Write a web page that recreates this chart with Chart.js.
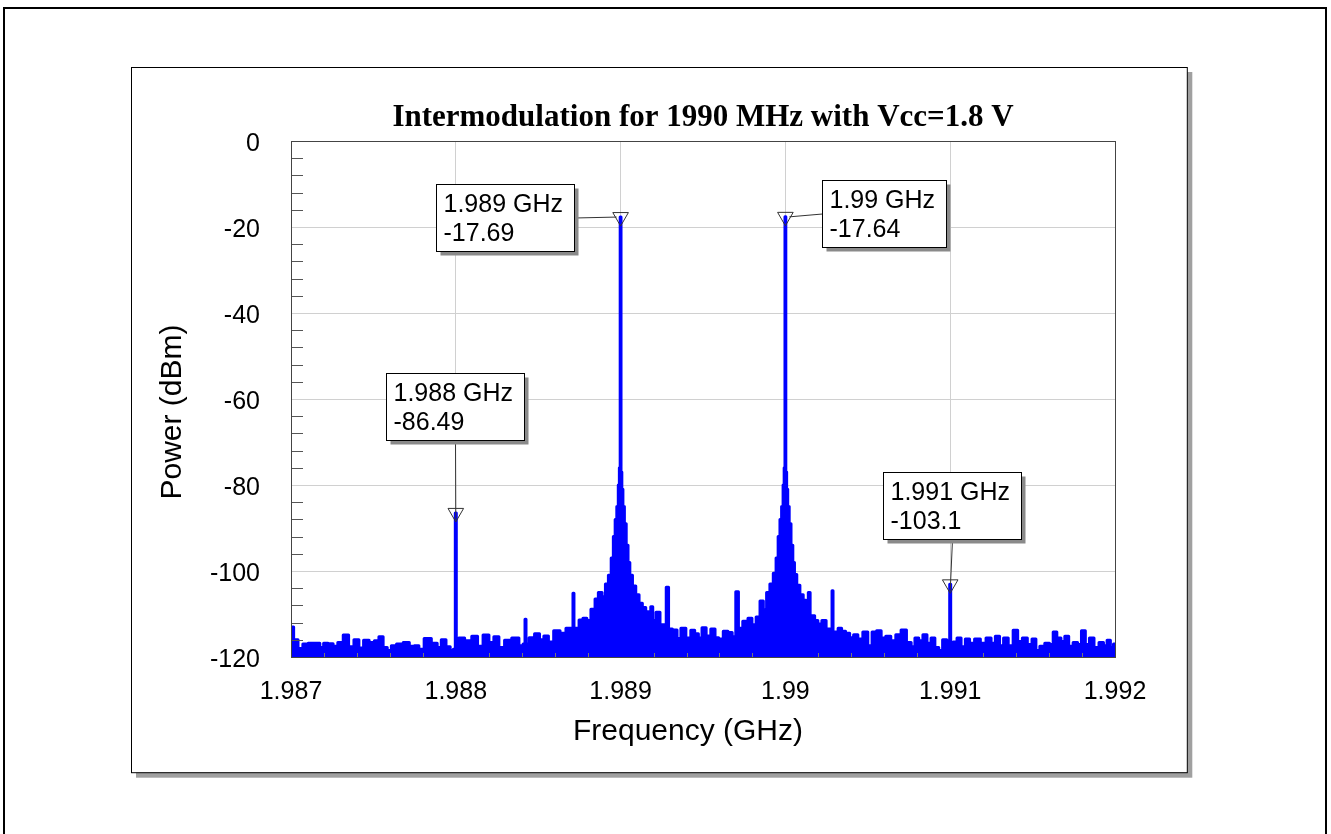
<!DOCTYPE html>
<html><head><meta charset="utf-8">
<script src="https://cdn.jsdelivr.net/npm/chart.js@4.4.1/dist/chart.umd.min.js"></script>
<style>html,body{margin:0;padding:0;background:#fff;} #wrap{width:1331px;height:834px;position:relative;}</style>
</head><body><div id="wrap"><canvas id="c" width="1331" height="834"></canvas></div>
<script>
const chartTitle = 'Intermodulation for 1990 MHz with Vcc=1.8 V';
const xAxisTitle = 'Frequency (GHz)';
const yAxisTitle = 'Power (dBm)';
const xTickValues = [1.987, 1.988, 1.989, 1.99, 1.991, 1.992];
const xTickLabels = ['1.987', '1.988', '1.989', '1.99', '1.991', '1.992'];
const yTickValues = [0, -20, -40, -60, -80, -100, -120];
const yTickLabels = ['0', '-20', '-40', '-60', '-80', '-100', '-120'];

const freqGHz = [
1.987004,1.987028,1.987057,1.987087,1.987121,1.987162,1.987188,1.987208,1.987242,1.987269,
1.987299,1.987335,1.987364,1.987400,1.987424,1.987457,1.987491,1.987521,1.987546,1.987572,
1.987596,1.987622,1.987659,1.987703,1.987733,1.987764,1.987788,1.987828,1.987875,1.987899,
1.987925,1.987956,1.987976,1.987994,1.988000,1.988006,1.988030,1.988077,1.988117,1.988147,
1.988184,1.988218,1.988244,1.988279,1.988313,1.988366,1.988400,1.988417,1.988423,1.988429,
1.988461,1.988495,1.988521,1.988548,1.988576,1.988612,1.988653,1.988684,1.988708,1.988714,
1.988720,1.988738,1.988758,1.988785,1.988805,1.988835,1.988855,1.988875,1.988900,1.988916,
1.988936,1.988950,1.988962,1.988972,1.988982,1.988990,1.988995,1.989000,1.989005,1.989010,
1.989018,1.989028,1.989040,1.989050,1.989062,1.989082,1.989102,1.989122,1.989142,1.989163,
1.989177,1.989189,1.989201,1.989229,1.989249,1.989270,1.989284,1.989298,1.989330,1.989355,
1.989377,1.989415,1.989437,1.989462,1.989482,1.989506,1.989532,1.989563,1.989583,1.989607,
1.989639,1.989664,1.989690,1.989708,1.989722,1.989761,1.989785,1.989809,1.989836,1.989856,
1.989876,1.989896,1.989916,1.989937,1.989950,1.989962,1.989972,1.989982,1.989990,1.989995,
1.990000,1.990005,1.990010,1.990018,1.990028,1.990040,1.990050,1.990060,1.990078,1.990098,
1.990118,1.990133,1.990145,1.990155,1.990170,1.990185,1.990209,1.990234,1.990260,1.990280,
1.990286,1.990292,1.990310,1.990330,1.990352,1.990378,1.990402,1.990426,1.990453,1.990487,
1.990513,1.990539,1.990568,1.990594,1.990624,1.990655,1.990685,1.990719,1.990750,1.990776,
1.990796,1.990822,1.990847,1.990871,1.990897,1.990917,1.990944,1.990964,1.990994,1.991000,
1.991006,1.991030,1.991053,1.991079,1.991105,1.991130,1.991166,1.991200,1.991235,1.991261,
1.991287,1.991312,1.991336,1.991368,1.991396,1.991423,1.991453,1.991483,1.991510,1.991530,
1.991558,1.991590,1.991615,1.991635,1.991659,1.991685,1.991706,1.991732,1.991760,1.991786,
1.991807,1.991833,1.991857,1.991888,1.991918,1.991942,1.991962,1.991982,1.992000
];
const powerDbm = [
-113,-116,-118,-117,-116.8,-116.8,-117.8,-116.8,-116.9,-117.5,
-116.6,-114.9,-117.6,-116,-117.9,-116.1,-116.6,-116.2,-115.3,-117.8,
-118.5,-117.4,-117,-116.6,-117.5,-117.4,-118.2,-115.7,-116.8,-117.8,
-116,-117.6,-118.5,-118.2,-86.49,-117,-115.6,-116.2,-115.2,-117.5,
-114.9,-116.6,-115.3,-117.8,-116.1,-115.6,-117.4,-117,-111.2,-117,
-115.5,-114.6,-116,-115.1,-116.5,-113.9,-114.5,-113.3,-113.3,-105.2,
-113.3,-113.3,-111.4,-111,-111.5,-108.9,-106.5,-105,-106,-103,
-101,-97,-92,-88,-85,-80,-76,-17.69,-77,-81,
-85,-89,-94,-98,-101,-103.5,-105.5,-107.5,-108.5,-109.5,
-110.5,-108.3,-111.5,-109.6,-112.5,-112.5,-103.8,-113.5,-113.7,-115.7,
-113.3,-115.6,-113.8,-114.6,-115.6,-113.2,-115.1,-113.5,-115.5,-115.8,
-114,-114.3,-115.3,-104.8,-113.3,-111.7,-111,-112.5,-110.7,-107,
-109,-105,-103,-100.5,-97,-92,-88,-85,-80,-76,
-17.64,-77,-81,-85,-89,-94,-98,-100.8,-103.3,-105.5,
-106.8,-108.5,-105,-110.4,-110.4,-111.5,-112.3,-111.5,-113.5,-113.5,
-104.6,-114.2,-114.2,-113.3,-114,-114.5,-115.5,-114.8,-115.8,-114.2,
-117.4,-114.2,-113.9,-115.6,-115.2,-116.2,-114.8,-113.7,-116.6,-117.6,
-115.6,-116.2,-114.8,-116.8,-115.6,-117.8,-118.5,-116,-117.8,-103.1,
-117.5,-116.5,-115.6,-117.6,-115.8,-116.8,-115.8,-116.8,-115.6,-116.8,
-115.2,-117.4,-115.6,-117.4,-113.8,-116.4,-115.6,-117.1,-115.8,-118.5,
-117.5,-116.8,-117.1,-114.2,-115.6,-116.4,-115.2,-117.5,-116.6,-117.1,
-113.9,-117.1,-115.6,-117.8,-116.6,-117.4,-116.1,-117.8,-117
];

const markerFreqs = [1.988, 1.989, 1.99, 1.991];
const markerPowers = [-86.49, -17.69, -17.64, -103.1];
const markerFreqLabels = ['1.988 GHz', '1.989 GHz', '1.99 GHz', '1.991 GHz'];
const markerPowerLabels = ['-86.49', '-17.69', '-17.64', '-103.1'];

const SANS = '"Liberation Sans", Arial, sans-serif';
const SERIF = '"Liberation Serif", "Times New Roman", serif';

// layout of the marker label boxes relative to marker (pixels)
const boxOffsets = [[-70, -139.5], [-184.5, -33], [36.2, -36.8], [-66.9, -112]];
const leaderFrom = [[0.5, 1], [1, 0.5], [0, 0.5], [0.5, 1]];
const leaderTo = [[0, 7], [-4, 0], [4, 0], [0, 7]];

const framePlugin = {
  id: 'framePlugin',
  beforeDraw(chart) {
    const ctx = chart.ctx;
    ctx.save();
    ctx.fillStyle = '#fff';
    ctx.fillRect(0, 0, chart.width, chart.height);
    ctx.strokeStyle = '#000';
    ctx.lineWidth = 2;
    ctx.strokeRect(4, 8, 1322, 840);
    ctx.fillStyle = '#a0a0a0';
    ctx.fillRect(136, 72, 1056.3, 705.7);
    ctx.fillStyle = '#fff';
    ctx.fillRect(131.5, 67.5, 1055.8, 705.2);
    ctx.strokeStyle = '#000';
    ctx.lineWidth = 1;
    ctx.strokeRect(131.5, 67.5, 1055.8, 705.2);
    const ca = chart.chartArea;
    ctx.fillStyle = '#000';
    // chart title
    ctx.font = 'bold 31px ' + SERIF;
    ctx.textAlign = 'center';
    ctx.textBaseline = 'alphabetic';
    ctx.fillText(chartTitle, (ca.left + ca.right) / 2, 126);
    // axis titles
    ctx.font = '30px ' + SANS;
    ctx.textBaseline = 'middle';
    ctx.fillText(xAxisTitle, (ca.left + ca.right) / 2 - 15, 732);
    ctx.save();
    ctx.translate(173, (ca.top + ca.bottom) / 2 + 13);
    ctx.rotate(-Math.PI / 2);
    ctx.fillText(yAxisTitle, 0, 0);
    ctx.restore();
    ctx.restore();
  },
  afterDatasetsDraw(chart) {
    const ctx = chart.ctx;
    const ca = chart.chartArea;
    const xs = chart.scales.x, ys = chart.scales.y;
    ctx.save();
    // minor ticks on y (every 4 dB) and x (every 0.0002 GHz)
    ctx.strokeStyle = '#555';
    ctx.lineWidth = 1;
    ctx.beginPath();
    for (let v = -4; v > -120; v -= 4) {
      if (v % 20 === 0) continue;
      const y = Math.round(ys.getPixelForValue(v)) + 0.5;
      ctx.moveTo(ca.left, y); ctx.lineTo(ca.left + 12, y);
    }
    ctx.stroke();
    ctx.strokeStyle = '#777';
    ctx.beginPath();
    for (let k = 1; k < 25; k++) {
      if (k % 5 === 0) continue;
      const x = Math.round(xs.getPixelForValue(1.987 + k * 0.0002)) + 0.5;
      ctx.moveTo(x, ca.bottom); ctx.lineTo(x, ca.bottom - 4);
    }
    ctx.stroke();
    // plot frame
    ctx.strokeStyle = '#444';
    ctx.strokeRect(Math.round(ca.left) + 0.5, Math.round(ca.top) + 0.5, Math.round(ca.right - ca.left), Math.round(ca.bottom - ca.top));
    // marker label boxes
    ctx.font = '25px ' + SANS;
    markerFreqs.forEach((f, i) => {
      const px = xs.getPixelForValue(f), py = ys.getPixelForValue(markerPowers[i]);
      const tw = Math.max(ctx.measureText(markerFreqLabels[i]).width, ctx.measureText(markerPowerLabels[i]).width);
      const w = Math.round(tw + 18), h = 67;
      const bx = Math.round(px + boxOffsets[i][0]) + 0.5, by = Math.round(py + boxOffsets[i][1]) + 0.5;
      ctx.strokeStyle = '#333';
      ctx.lineWidth = 1;
      ctx.beginPath();
      ctx.moveTo(bx + w * leaderFrom[i][0], by + h * leaderFrom[i][1]);
      ctx.lineTo(px + leaderTo[i][0], py + leaderTo[i][1]);
      ctx.stroke();
      ctx.fillStyle = '#8a8a8a';
      ctx.fillRect(bx + 4, by + 4, w, h);
      ctx.fillStyle = '#fff';
      ctx.fillRect(bx, by, w, h);
      ctx.strokeStyle = '#000';
      ctx.strokeRect(bx, by, w, h);
      ctx.fillStyle = '#000';
      ctx.textAlign = 'left';
      ctx.textBaseline = 'alphabetic';
      ctx.fillText(markerFreqLabels[i], bx + 7, by + 27);
      ctx.fillText(markerPowerLabels[i], bx + 7, by + 56);
    });
    ctx.restore();
  }
};

new Chart(document.getElementById('c'), {
  type: 'line',
  data: {
    datasets: [
      {
        label: 'markers',
        data: markerFreqs.map((f, i) => ({ x: f, y: markerPowers[i] })),
        showLine: false,
        pointStyle: 'triangle',
        rotation: 180,
        pointRadius: 9,
        borderColor: '#333',
        borderWidth: 1,
        backgroundColor: 'rgba(0,0,0,0)',
        order: 1
      },
      {
        label: 'spectrum',
        data: freqGHz.map((f, i) => ({ x: f, y: powerDbm[i] })),
        borderColor: '#0000ff',
        backgroundColor: '#0000ff',
        borderWidth: 3,
        fill: 'start',
        stepped: 'middle',
        pointRadius: 0,
        borderJoinStyle: 'round',
        borderCapStyle: 'round',
        order: 2
      }
    ]
  },
  options: {
    responsive: false,
    animation: false,
    events: [],
    layout: { padding: { left: 131, right: 216, top: 141, bottom: 84 } },
    plugins: { legend: { display: false }, tooltip: { enabled: false }, title: { display: false } },
    scales: {
      x: {
        type: 'linear', min: 1.987, max: 1.992,
        afterBuildTicks: s => { s.ticks = xTickValues.map(v => ({ value: v })); },
        afterFit: s => { s.height = 93; },
        ticks: { callback: (v, i) => xTickLabels[i], font: { family: SANS, size: 25 }, color: '#000', padding: 20, maxRotation: 0, autoSkip: false },
        grid: { color: '#d0d0d0', lineWidth: 1, drawTicks: false },
        border: { display: false },
        title: { display: false }
      },
      y: {
        type: 'linear', min: -120, max: 0,
        afterBuildTicks: s => { s.ticks = yTickValues.map(v => ({ value: v })); },
        afterFit: s => { s.width = 160; },
        ticks: { callback: (v, i) => yTickLabels[i], font: { family: SANS, size: 25 }, color: '#000', padding: 31, labelOffset: 3, autoSkip: false },
        grid: { color: '#d0d0d0', lineWidth: 1, drawTicks: false },
        border: { display: false },
        title: { display: false }
      }
    }
  },
  plugins: [framePlugin]
});
</script>
</body></html>
